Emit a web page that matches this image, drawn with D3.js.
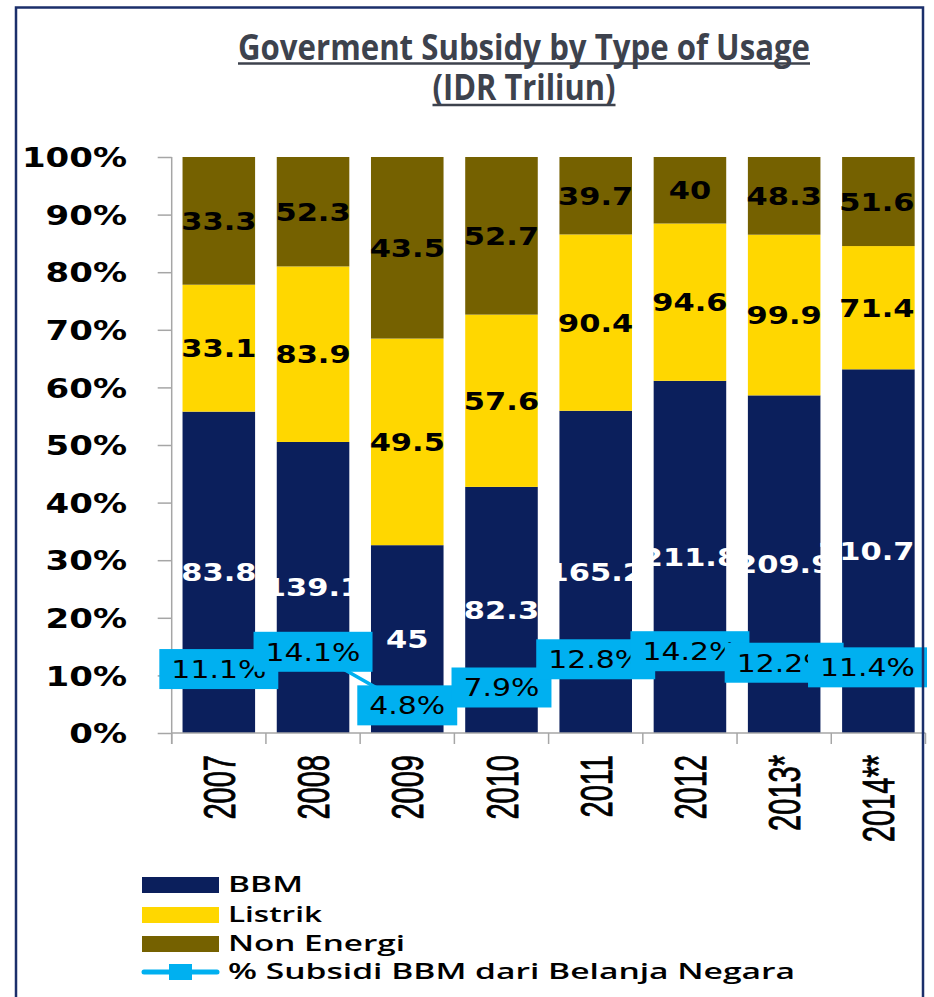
<!DOCTYPE html>
<html>
<head>
<meta charset="utf-8">
<script src="https://cdn.jsdelivr.net/npm/d3@7"></script>
<style>
  html, body { margin: 0; padding: 0; background: #ffffff; }
  svg { display: block; }
</style>
</head>
<body>
<script>
// Subsidy amounts (IDR trillion) per usage type and year
const years = ["2007", "2008", "2009", "2010", "2011", "2012", "2013*", "2014**"];
const bbm = [83.8, 139.1, 45, 82.3, 165.2, 211.8, 209.9, 210.7];
const listrik = [33.1, 83.9, 49.5, 57.6, 90.4, 94.6, 99.9, 71.4];
const nonEnergi = [33.3, 52.3, 43.5, 52.7, 39.7, 40, 48.3, 51.6];
// Fuel subsidy as share of state spending (%)
const pctBelanja = [11.1, 14.1, 4.8, 7.9, 12.8, 14.2, 12.2, 11.4];

const seriesNames = ["BBM", "Listrik", "Non Energi"];
const lineName = "% Subsidi BBM dari Belanja Negara";
const yTicks = [0, 0.1, 0.2, 0.3, 0.4, 0.5, 0.6, 0.7, 0.8, 0.9, 1];
const titleLines = ["Goverment Subsidy by Type of Usage", "(IDR Triliun)"];

const colors = { "BBM": "#0b1f5c", "Listrik": "#ffd700", "Non Energi": "#756100" };
const lineColor = "#00b0f0";
const labelColors = { "BBM": "#ffffff", "Listrik": "#000000", "Non Energi": "#000000" };

const W = 934, H = 997;
const svg = d3.select("body").append("svg").attr("width", W).attr("height", H);

const plot = { left: 171.7, right: 925.5, top: 157, bottom: 733 };

const x = d3.scaleBand().domain(years).range([plot.left, plot.right])
  .paddingInner(0.23).paddingOuter(0.115);
const y = d3.scaleLinear().domain([0, 1]).range([plot.bottom, plot.top]);

const rows = years.map((yr, i) => ({ year: yr, "BBM": bbm[i], "Listrik": listrik[i], "Non Energi": nonEnergi[i] }));
const stacked = d3.stack().keys(seriesNames).offset(d3.stackOffsetExpand)(rows);

// Title
const titleG = svg.append("g").attr("fill", "#3d424d");
const titleSpec = [
  { text: titleLines[0], y: 60, len: 572, uy: 63.5, size: 36 },
  { text: titleLines[1], y: 100, len: 183, uy: 105, size: 36 }
];
titleSpec.forEach(t => {
  titleG.append("text")
    .attr("x", 524).attr("y", t.y)
    .attr("text-anchor", "middle")
    .attr("font-family", "'Open Sans', sans-serif")
    .attr("font-weight", 700)
    .attr("font-size", t.size)
    .attr("textLength", t.len)
    .attr("lengthAdjust", "spacingAndGlyphs")
    .text(t.text);
  titleG.append("line")
    .attr("x1", 524 - t.len / 2).attr("x2", 524 + t.len / 2)
    .attr("y1", t.uy).attr("y2", t.uy)
    .attr("stroke", "#3d424d").attr("stroke-width", 2.5);
});

// Stacked bars
const layers = svg.append("g").selectAll("g").data(stacked).join("g")
  .attr("fill", d => colors[d.key]);
layers.selectAll("rect").data(d => d).join("rect")
  .attr("x", d => x(d.data.year))
  .attr("width", x.bandwidth())
  .attr("y", d => y(d[1]))
  .attr("height", d => y(d[0]) - y(d[1]));

// Y axis
const yAxis = svg.append("g")
  .attr("transform", `translate(${plot.left},0)`)
  .call(d3.axisLeft(y).tickValues(yTicks).tickSize(14).tickSizeOuter(0)
    .tickFormat(d3.format(".0%")));
yAxis.select(".domain").attr("stroke", "#a6a6a6").attr("stroke-width", 1.5)
  .attr("d", `M0,${plot.top}V${plot.bottom + 11}`);
yAxis.selectAll(".tick line").attr("stroke", "#a6a6a6").attr("stroke-width", 1.5);
yAxis.selectAll(".tick text")
  .attr("x", -44.7 / 1.26)
  .attr("dy", "0.36em")
  .attr("transform", "scale(1.26,1)")
  .attr("font-family", "'DejaVu Sans', sans-serif")
  .attr("font-weight", "bold")
  .attr("font-size", 27)
  .attr("fill", "#000");

// X axis: baseline, category boundary ticks and rotated year labels
const xAxis = svg.append("g").attr("transform", `translate(0,${plot.bottom})`)
  .call(d3.axisBottom(x).tickSize(0).tickPadding(0));
xAxis.select(".domain").remove();
xAxis.selectAll(".tick text")
  .attr("y", 0)
  .attr("dy", "0.36em")
  .attr("text-anchor", "end")
  .attr("transform", "translate(0,22) rotate(-90) scale(0.65,1)")
  .attr("font-family", "'Liberation Sans', Arial, sans-serif")
  .attr("font-size", 44.7)
  .attr("fill", "#000")
  .attr("stroke", "#000")
  .attr("stroke-width", 0.9);
const step = x.step();
const gap = step - x.bandwidth();
const boundaries = years.map(d => x(d) - gap / 2).concat([plot.right]);
xAxis.append("line").attr("x1", plot.left).attr("x2", plot.right)
  .attr("y1", 0).attr("y2", 0).attr("stroke", "#a6a6a6").attr("stroke-width", 1.5);
xAxis.selectAll(".bound").data(boundaries).join("line")
  .attr("class", "bound")
  .attr("x1", d => d).attr("x2", d => d)
  .attr("y1", 0).attr("y2", 11)
  .attr("stroke", "#a6a6a6").attr("stroke-width", 1.5);

// Segment value labels, kept inside the plot's right edge
const segLabels = svg.append("g");
const segScaleX = 1.22;
const labelRightLimit = plot.right - 11;
stacked.forEach(layer => {
  segLabels.selectAll(null).data(layer).join("text")
    .attr("text-anchor", "middle")
    .attr("dy", "0.36em")
    .attr("font-family", "'DejaVu Sans', sans-serif")
    .attr("font-weight", "bold")
    .attr("font-size", 25)
    .attr("fill", labelColors[layer.key])
    .text(d => String(d.data[layer.key]))
    .attr("transform", function(d) {
      const half = this.getComputedTextLength() * segScaleX / 2;
      const lx = Math.min(x(d.data.year) + x.bandwidth() / 2, labelRightLimit - half);
      return `translate(${lx},${(y(d[0]) + y(d[1])) / 2}) scale(${segScaleX},1)`;
    });
});

// Share-of-spending line
const cx = i => x(years[i]) + x.bandwidth() / 2;
const line = d3.line().x((d, i) => cx(i)).y(d => y(d / 100));
svg.append("path").datum(pctBelanja)
  .attr("d", line)
  .attr("fill", "none")
  .attr("stroke", lineColor)
  .attr("stroke-width", 3.5);
svg.append("g").selectAll("rect").data(pctBelanja).join("rect")
  .attr("x", (d, i) => cx(i) - 6).attr("y", d => y(d / 100) - 6)
  .attr("width", 12).attr("height", 12)
  .attr("fill", lineColor);

// Line labels in filled boxes
const lineLabels = svg.append("g");
pctBelanja.forEach((v, i) => {
  const g = lineLabels.append("g");
  const py = y(v / 100);
  const t = g.append("text")
    .attr("text-anchor", "middle")
    .attr("dy", "0.36em")
    .attr("font-family", "'DejaVu Sans', sans-serif")
    .attr("font-size", 24.5)
    .attr("fill", "#000")
    .text(v.toFixed(1) + "%");
  const tw = t.node().getComputedTextLength() * 1.22;
  const bw = tw + 24, bh = 40;
  const bx = Math.min(cx(i), plot.right + 1.5 - bw / 2);
  t.attr("transform", `translate(${bx},${py}) scale(1.22,1)`);
  g.insert("rect", "text")
    .attr("x", bx - bw / 2).attr("y", py - bh / 2)
    .attr("width", bw).attr("height", bh)
    .attr("fill", lineColor);
});

// Legend
const legend = svg.append("g");
const legendFont = { family: "'Open Sans', sans-serif", weight: 600, size: 21 };
const legendRows = [
  { name: "BBM", type: "box", y: 877, len: 75 },
  { name: "Listrik", type: "box", y: 907, len: 94 },
  { name: "Non Energi", type: "box", y: 936, len: 177 },
  { name: lineName, type: "line", y: 964, len: 567 }
];
legendRows.forEach(r => {
  if (r.type === "box") {
    legend.append("rect").attr("x", 142).attr("y", r.y).attr("width", 77).attr("height", 16)
      .attr("fill", colors[r.name]);
  } else {
    legend.append("line").attr("x1", 144).attr("x2", 217).attr("y1", r.y + 8).attr("y2", r.y + 8)
      .attr("stroke", lineColor).attr("stroke-width", 5).attr("stroke-linecap", "round");
    legend.append("rect").attr("x", 169).attr("y", r.y).attr("width", 23).attr("height", 16)
      .attr("fill", lineColor);
  }
  legend.append("text")
    .attr("x", 228).attr("y", r.y + 15)
    .attr("font-family", legendFont.family)
    .attr("font-weight", legendFont.weight)
    .attr("font-size", legendFont.size)
    .attr("textLength", r.len)
    .attr("lengthAdjust", "spacingAndGlyphs")
    .attr("fill", "#000")
    .text(r.name);
});

// Chart frame
svg.append("rect")
  .attr("x", 16).attr("y", 7.5).attr("width", 907).attr("height", 1010)
  .attr("fill", "none").attr("stroke", "#1b2f6b").attr("stroke-width", 2.5);
</script>
</body>
</html>
